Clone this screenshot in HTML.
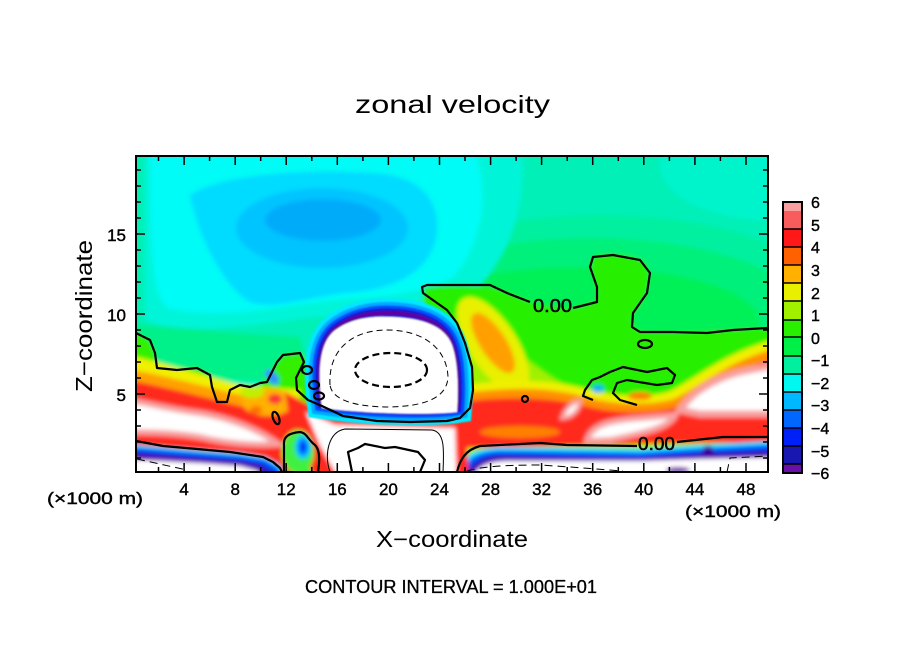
<!DOCTYPE html>
<html><head><meta charset="utf-8"><style>
html,body{margin:0;padding:0;background:#fff;}
svg{display:block;}
text{font-family:"Liberation Sans",sans-serif;fill:#000;}
</style></head><body>
<svg width="904" height="654" viewBox="0 0 904 654" xmlns="http://www.w3.org/2000/svg">
<defs>
<clipPath id="c"><rect x="136" y="156" width="632" height="316"/></clipPath>
<filter id="b" filterUnits="userSpaceOnUse" x="100" y="130" width="720" height="380"><feGaussianBlur stdDeviation="2"/></filter>
<filter id="b2" filterUnits="userSpaceOnUse" x="100" y="130" width="720" height="380"><feGaussianBlur stdDeviation="0.9"/></filter>
</defs>
<rect width="904" height="654" fill="#fff"/>

<g clip-path="url(#c)">
<g filter="url(#b)">
 <rect x="110" y="140" width="690" height="350" fill="#00f0b8"/>
 <ellipse cx="770" cy="165" rx="110" ry="55" fill="#00f4cc"/>
 <ellipse cx="600" cy="320" rx="250" ry="105" fill="#00f0a0"/>
 <ellipse cx="590" cy="318" rx="220" ry="80" fill="#00f07c"/>
 <ellipse cx="580" cy="322" rx="180" ry="55" fill="#00f058"/>
 <path d="M145,140 L520,140 C530,200 510,260 470,295 C430,315 360,312 305,318 C250,326 200,332 160,325 L145,320 Z" fill="#00f4d8"/>
 <path d="M150,140 L470,140 C495,190 480,250 452,278 C418,298 360,296 305,304 C255,312 205,318 168,308 C152,296 150,260 150,140 Z" fill="#00fcf6"/>
 <path d="M190,195 C225,172 320,168 385,174 C425,180 442,205 436,238 C430,268 400,290 345,293 C305,298 275,310 250,302 C228,290 200,245 190,195 Z" fill="#00dcff"/>
 <ellipse cx="322" cy="228" rx="86" ry="40" fill="#00c4ff"/>
 <ellipse cx="323" cy="220" rx="58" ry="21" fill="#00acfa"/>
 <path d="M110,322 C160,327 220,332 300,337 L310,380 L110,380 Z" fill="#00f08a"/>

 <!-- left positive region -->
 <path d="M110,330 L137,333 L150,340 L155,353 L157,368 L197,368 L210,375 L215,397 L227,403 L233,390 L260,385 L277,362 L283,355 L300,353 L310,360 L310,490 L110,490 Z" fill="#30f000"/>
 <path d="M110,352 C150,358 200,375 240,385 L300,390 L300,490 L110,490 Z" fill="#f0f000"/>
 <path d="M110,366 C150,372 200,385 240,395 L300,400 L300,490 L110,490 Z" fill="#ffa000"/>
 <path d="M110,377 C150,383 200,396 240,406 L300,413 L300,490 L110,490 Z" fill="#ff2a1a"/>
 <path d="M110,398 C140,400 160,408 200,413 C230,418 260,430 278,444 C250,446 225,443 200,437 C170,432 140,432 110,432 Z" fill="#fff" stroke="#f8a0a0" stroke-width="6"/>
 <path d="M110,443 L163,447 L200,450 L240,453 L265,457 L280,465 L292,490 L110,490 Z" fill="#00d8ff"/>
 <path d="M110,446 L163,450 L200,453 L240,456 L265,460 L278,468 L288,490 L110,490 Z" fill="#0050ff"/>
 <path d="M110,450 L163,454 L200,457 L240,460 L262,464 L274,472 L280,490 L110,490 Z" fill="#1818c0"/>
 <path d="M110,454 L163,457 L200,460 L240,463 L260,467 L268,476 L270,490 L110,490 Z" fill="#6800a8"/>
 <path d="M110,459 L160,461 L200,463 L240,466 L258,471 L262,490 L110,490 Z" fill="#fff"/>

 <!-- middle mixed region -->
 <ellipse cx="268" cy="402" rx="26" ry="14" fill="#ffb000"/>
 <ellipse cx="252" cy="392" rx="12" ry="6" fill="#c0f000"/>
 <ellipse cx="275" cy="399" rx="7" ry="5" fill="#ff3030"/>
 <ellipse cx="256" cy="410" rx="6" ry="4" fill="#ff7000"/>
 <ellipse cx="272" cy="377" rx="5" ry="9" transform="rotate(-40 272 377)" fill="#3090ff"/>

 <!-- right positive region -->
 <path d="M423,287 C440,285 470,284 490,287 C510,292 525,300 540,305 L573,308 C585,305 597,303 597,295 C596,280 588,270 592,258 C600,252 630,252 645,262 C655,280 645,300 633,315 C630,330 640,333 660,332 C700,333 740,328 790,327 L790,490 L423,490 Z" fill="#28f000"/>
 <path d="M462,305 C490,330 530,365 565,385 C600,395 630,400 665,396 C695,383 725,352 790,336 L790,490 L460,490 Z" fill="#a0f000"/>
 <ellipse cx="493" cy="345" rx="55" ry="24" transform="rotate(57 493 345)" fill="#e8f000"/>
 <ellipse cx="493" cy="343" rx="35" ry="13" transform="rotate(57 493 343)" fill="#ffa000"/>
 <path d="M465,392 C510,386 550,386 585,396 C615,404 650,405 672,398 C700,385 730,355 790,343" stroke="#f0f000" stroke-width="14" fill="none"/>
 <path d="M462,398 C510,392 550,392 585,402 C615,410 650,411 675,404 C703,391 732,362 790,350" stroke="#ff9000" stroke-width="10" fill="none"/>
 <path d="M458,402 C510,396 550,397 585,406 C615,414 650,414 678,407 C705,395 734,366 790,355 L790,445 C700,440 620,446 458,448 Z" fill="#ff2a1a"/>
 <ellipse cx="520" cy="432" rx="40" ry="6" fill="#ff8000"/>
 <path d="M680,410 C690,395 710,380 740,372 L790,362 L790,414 L700,414 Z" fill="#fff" stroke="#f8a0a0" stroke-width="7"/>
 <path d="M587,441 C590,425 610,420 640,418 L675,415 C670,428 640,434 610,440 Z" fill="#fff" stroke="#f8a0a0" stroke-width="6"/>
 <path d="M562,418 C565,408 572,402 580,401 C580,410 572,418 562,418 Z" fill="#fff" stroke="#f8a0a0" stroke-width="4"/>
 <ellipse cx="598" cy="389" rx="6" ry="4" fill="#00b0ff"/>
 <ellipse cx="640" cy="396" rx="12" ry="4" fill="#ff8000"/>

 <path d="M450,490 C455,460 468,449 500,447 L640,449 L700,445 L790,440 L790,490 Z" fill="#00d8ff"/>
 <path d="M455,490 C460,465 470,452 500,451 L640,453 L700,449 L790,444 L790,490 Z" fill="#0050ff"/>
 <path d="M460,490 C465,468 475,456 500,455 L640,457 L700,453 L790,449 L790,490 Z" fill="#1818c0"/>
 <path d="M464,490 C468,470 478,459 502,458 L640,459 L700,456 L790,453 L790,490 Z" fill="#6800a8"/>
 <path d="M468,490 C472,470 482,462 505,461 L640,461 L700,459 L790,457 L790,490 Z" fill="#fff"/>
 <ellipse cx="678" cy="470" rx="12" ry="3" fill="#7000a8"/>
 <ellipse cx="708" cy="451" rx="6" ry="5" fill="#4000a0"/>

 <!-- below dome -->
 <path d="M285,392 L330,415 L465,420 L470,490 L320,490 L290,425 Z" fill="#ff2a1a"/>
 <path d="M306,412 L335,425 L455,428 L457,490 L345,490 L320,445 Z" fill="#fff"/>
 <ellipse cx="298" cy="452" rx="16" ry="22" fill="#40f040"/>
 <ellipse cx="303" cy="447" rx="8" ry="12" fill="#00c0ff"/>
 <ellipse cx="303" cy="447" rx="4" ry="7" fill="#0030ff"/>
</g>

<!-- dome ring -->
<g filter="url(#b2)">
 <g fill="none">
 <path d="M322,404 C318,375 318,345 334,330 C352,315 375,312 392,313 C422,314 445,324 452,345 C459,365 458,395 457,408 C430,412 370,411 322,404 Z" stroke="#00e8ff" stroke-width="30"/>
 <path d="M322,404 C318,375 318,345 334,330 C352,315 375,312 392,313 C422,314 445,324 452,345 C459,365 458,395 457,408 C430,412 370,411 322,404 Z" stroke="#00a8ff" stroke-width="22"/>
 <path d="M322,404 C318,375 318,345 334,330 C352,315 375,312 392,313 C422,314 445,324 452,345 C459,365 458,395 457,408 C430,412 370,411 322,404 Z" stroke="#0050ff" stroke-width="15"/>
 <path d="M322,404 C318,375 318,345 334,330 C352,315 375,312 392,313 C422,314 445,324 452,345 C459,365 458,395 457,408 C430,412 370,411 322,404 Z" stroke="#1818d0" stroke-width="9"/>
 <path d="M322,404 C318,375 318,345 334,330 C352,315 375,312 392,313 C422,314 445,324 452,345 C459,365 458,395 457,408 C430,412 370,411 322,404 Z" stroke="#6000a0" stroke-width="4"/>
 </g>
 <path d="M322,408 C318,375 318,345 334,331 C352,317 375,316 392,317 C422,318 445,326 452,345 C459,365 458,395 457,412 C430,415 370,414 322,408 Z" fill="#fff"/>
</g>

<!-- contours -->
<g fill="none" stroke="#000" stroke-width="2.2" stroke-linejoin="round">
 <path d="M136,333 L150,340 L155,353 L157,368 L177,370 L197,368 L210,375 L212,387 L217,402 L227,402 L230,390 L240,385 L250,387 L260,383 L267,382 L277,362 L283,355 L300,353 L304,362 L296,378 L297,390 L308,400 L322,406 L343,416 L377,421 L410,422 L447,421 L460,418 L470,408 L473,390 L472,367 L465,343 L457,323 L447,310 L430,298 L423,293 L422,287 L427,285 L460,285 L490,285 L507,293 L530,302"/>
 <path d="M573,308 L597,302 L597,287 L590,267 L593,257 L613,255 L640,260 L650,273 L647,293 L633,313 L632,327 L640,332 L673,332 L707,333 L733,330 L768,328"/>
 <ellipse cx="307" cy="370" rx="5" ry="4"/>
 <ellipse cx="314" cy="385" rx="5" ry="4"/>
 <ellipse cx="319" cy="396" rx="5" ry="3.5"/>
 <ellipse cx="276" cy="418" rx="3" ry="6.5" transform="rotate(-20 276 418)"/>
 <ellipse cx="645" cy="344" rx="7" ry="4"/>
 <ellipse cx="525" cy="399" rx="3" ry="3"/>
 <path d="M284,472 L284,445 C283,436 290,433 300,432 C307,433 308,440 315,445 C320,450 320,460 318,472"/>
 <path d="M637,405 L620,400 L613,393 L617,383 L627,380 L657,385 L672,383 L675,375 L667,368 L647,372 L623,367 L610,372 L600,377 L592,380 L585,390 L583,396 L593,400"/>
 <path d="M136,441 L163,446 L197,449 L230,452 L263,457 L273,462 L280,468 L282,472"/>
 <path d="M457,472 C460,460 465,450 480,446 L540,443 L567,445 L637,446"/>
 <path d="M677,442 L723,437 L768,437"/>
 <path d="M352,472 L348,452 L358,448 L365,444 L385,448 L395,447 L418,452 L425,460 L420,472"/>
 <ellipse cx="391" cy="370" rx="36" ry="17" stroke-dasharray="7,4"/>
</g>
<g fill="none" stroke="#000" stroke-width="1">
 <path d="M330,472 C324,455 328,432 345,429 L432,430 C445,432 444,450 443,472"/>
 <path d="M330,385 C328,350 352,330 387,330 C425,330 447,350 448,377 C447,398 425,406 390,407 C355,407 332,400 330,385 Z" stroke-dasharray="6,4"/>
 <path d="M137,459 L187,470" stroke-dasharray="8,5"/>
 <path d="M467,471 C480,467 500,465 540,465 L570,467 L623,471" stroke-dasharray="8,5"/>
 <path d="M727,472 L730,458 L768,456" stroke-dasharray="8,5"/>
</g>
<text x="533" y="312" font-size="18" textLength="39" lengthAdjust="spacingAndGlyphs" stroke="#000" stroke-width="0.5">0.00</text>
<text x="638" y="450" font-size="18" textLength="37" lengthAdjust="spacingAndGlyphs" stroke="#000" stroke-width="0.5">0.00</text>
</g>

<!-- frame and ticks -->
<rect x="136" y="156" width="632" height="316" fill="none" stroke="#000" stroke-width="2"/>
<g stroke="#000" stroke-width="1.5" fill="none">
<path d="M184.1,156v9M235.2,156v9M286.2,156v9M337.3,156v9M388.4,156v9M439.5,156v9M490.6,156v9M541.6,156v9M592.7,156v9M643.8,156v9M694.9,156v9M746,156v9
M158.5,156v5M209.6,156v5M260.7,156v5M311.8,156v5M362.9,156v5M413.9,156v5M465,156v5M516.1,156v5M567.2,156v5M618.3,156v5M669.4,156v5M720.4,156v5
M184.1,472v-9M235.2,472v-9M286.2,472v-9M337.3,472v-9M388.4,472v-9M439.5,472v-9M490.6,472v-9M541.6,472v-9M592.7,472v-9M643.8,472v-9M694.9,472v-9M746,472v-9
M158.5,472v-5M209.6,472v-5M260.7,472v-5M311.8,472v-5M362.9,472v-5M413.9,472v-5M465,472v-5M516.1,472v-5M567.2,472v-5M618.3,472v-5M669.4,472v-5M720.4,472v-5
M136,394h9M136,314h9M136,234h9
M136,458h5M136,442h5M136,426h5M136,410h5M136,378h5M136,362h5M136,346h5M136,330h5M136,298h5M136,282h5M136,266h5M136,250h5M136,218h5M136,202h5M136,186h5M136,170h5
M768,394h-9M768,314h-9M768,234h-9
M768,458h-5M768,442h-5M768,426h-5M768,410h-5M768,378h-5M768,362h-5M768,346h-5M768,330h-5M768,298h-5M768,282h-5M768,266h-5M768,250h-5M768,218h-5M768,202h-5M768,186h-5M768,170h-5"/>
</g>

<!-- tick labels -->
<g font-size="17" text-anchor="middle" stroke="#000" stroke-width="0.4">
<text x="184.1" y="495">4</text>
<text x="235.2" y="495">8</text>
<text x="286.2" y="495">12</text>
<text x="337.3" y="495">16</text>
<text x="388.4" y="495">20</text>
<text x="439.5" y="495">24</text>
<text x="490.6" y="495">28</text>
<text x="541.6" y="495">32</text>
<text x="592.7" y="495">36</text>
<text x="643.8" y="495">40</text>
<text x="694.9" y="495">44</text>
<text x="746" y="495">48</text>
</g>
<g font-size="17" text-anchor="end" stroke="#000" stroke-width="0.4">
<text x="126" y="241">15</text>
<text x="126" y="321">10</text>
<text x="126" y="401">5</text>
</g>
<g stroke="#000" stroke-width="0.4">
<text x="47" y="504" font-size="17" textLength="96" lengthAdjust="spacingAndGlyphs">(×1000 m)</text>
<text x="685" y="517" font-size="17" textLength="96" lengthAdjust="spacingAndGlyphs">(×1000 m)</text>
</g>

<text x="355" y="113" font-size="25" textLength="195" lengthAdjust="spacingAndGlyphs">zonal velocity</text>
<text x="376" y="547" font-size="23" textLength="152" lengthAdjust="spacingAndGlyphs">X−coordinate</text>
<text transform="translate(92,392) rotate(-90)" font-size="23" textLength="152" lengthAdjust="spacingAndGlyphs">Z−coordinate</text>
<text x="305" y="593" font-size="18" textLength="292" lengthAdjust="spacingAndGlyphs" stroke="#000" stroke-width="0.3">CONTOUR INTERVAL = 1.000E+01</text>

<!-- colorbar -->
<g>
<rect x="783" y="202" width="19" height="9" fill="#f8a0a0"/>
<rect x="783" y="211" width="19" height="18" fill="#f85c5c"/>
<rect x="783" y="229" width="19" height="18" fill="#ff1818"/>
<rect x="783" y="247" width="19" height="18" fill="#ff6000"/>
<rect x="783" y="265" width="19" height="18" fill="#ffb000"/>
<rect x="783" y="283" width="19" height="18" fill="#e8f000"/>
<rect x="783" y="301" width="19" height="19" fill="#a0f000"/>
<rect x="783" y="320" width="19" height="17" fill="#28f000"/>
<rect x="783" y="337" width="19" height="19" fill="#00f048"/>
<rect x="783" y="356" width="19" height="18" fill="#00f0a0"/>
<rect x="783" y="374" width="19" height="18" fill="#00f8f0"/>
<rect x="783" y="392" width="19" height="18" fill="#00b8ff"/>
<rect x="783" y="410" width="19" height="18" fill="#0068ff"/>
<rect x="783" y="428" width="19" height="18" fill="#0020f8"/>
<rect x="783" y="446" width="19" height="18" fill="#1818b0"/>
<rect x="783" y="464" width="19" height="9" fill="#6a10a8"/>
<path d="M783,229h19M783,247h19M783,265h19M783,283h19M783,301h19M783,320h19M783,337h19M783,356h19M783,374h19M783,392h19M783,410h19M783,428h19M783,446h19M783,464h19" stroke="#000" stroke-width="1.5"/>
<rect x="783" y="202" width="19" height="271" fill="none" stroke="#000" stroke-width="2"/>
</g>
<g font-size="16" stroke="#000" stroke-width="0.4">
<text x="811" y="208">6</text>
<text x="811" y="231">5</text>
<text x="811" y="253">4</text>
<text x="811" y="276">3</text>
<text x="811" y="299">2</text>
<text x="811" y="321">1</text>
<text x="811" y="344">0</text>
<text x="811" y="366">−1</text>
<text x="811" y="389">−2</text>
<text x="811" y="411">−3</text>
<text x="811" y="434">−4</text>
<text x="811" y="457">−5</text>
<text x="811" y="479">−6</text>
</g>
</svg>
</body></html>
